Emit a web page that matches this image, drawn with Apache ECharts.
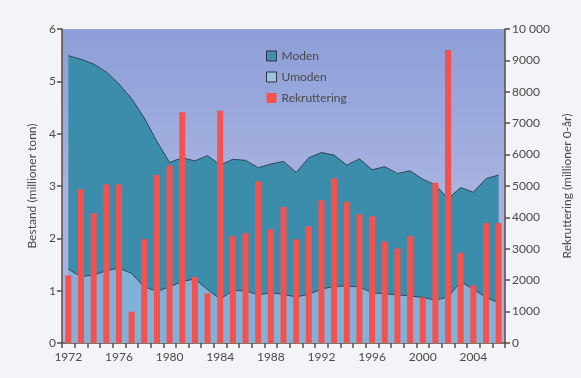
<!DOCTYPE html>
<html>
<head>
<meta charset="utf-8">
<script src="https://cdn.jsdelivr.net/npm/echarts@6/dist/echarts.min.js"></script>
<style>
html,body{margin:0;padding:0;background:#f2f4f7;}
#c{width:581px;height:378px;}
</style>
</head>
<body>
<div id="c"></div>
<script>
var years = [];
for (var y = 1972; y <= 2006; y++) years.push(String(y));

var totalBestand = [5.49,5.42,5.33,5.18,4.95,4.67,4.30,3.85,3.45,3.54,3.48,3.58,3.40,3.51,3.49,3.35,3.42,3.47,3.26,3.54,3.64,3.59,3.40,3.52,3.31,3.37,3.24,3.29,3.13,3.02,2.76,2.97,2.88,3.14,3.21];
var umoden = [1.41,1.27,1.30,1.38,1.43,1.33,1.07,0.99,1.07,1.18,1.22,1.02,0.84,1.00,1.00,0.92,0.96,0.93,0.88,0.93,1.03,1.08,1.09,1.07,0.96,0.94,0.92,0.90,0.87,0.82,0.88,1.17,1.03,0.87,0.77];
var moden = totalBestand.map(function(t, i){ return +(t - umoden[i]).toFixed(2); });
var rekruttering = [2150,4900,4130,5050,5050,1000,3310,5350,5650,7350,2100,1580,7400,3400,3500,5150,3620,4330,3300,3720,4550,5250,4500,4100,4030,3230,3010,3400,1450,5100,9330,2870,1840,3820,3820];

var leftTicks = [0,1,2,3,4,5,6];
var rightTicks = [0,1000,2000,3000,4000,5000,6000,7000,8000,9000,10000];

var chart = echarts.init(document.getElementById('c'), null, {renderer:'canvas'});
var font = 'Lato';
var txt = '#4a4a4a';
var axisCol = '#5b4c40';

chart.setOption({
  backgroundColor: '#f2f4f7',
  animation: false,
  textStyle: {fontFamily: font},
  grid: {
    left: 62, right: 75, top: 29, bottom: 35,
    show: true,
    borderWidth: 0,
    backgroundColor: new echarts.graphic.LinearGradient(0,0,0,1,[
      {offset:0, color:'#8d9ed8'},
      {offset:0.5, color:'#a6b2e0'},
      {offset:1, color:'#a6b2e0'}
    ])
  },
  legend: {
    orient: 'vertical',
    left: 261, top: 45,
    itemWidth: 10, itemHeight: 10, itemGap: 9,
    textStyle: {fontFamily: font, fontSize: 12, color: txt},
    data: [
      {name:'Moden', icon:'rect', itemStyle:{color:'#3d8fac', borderColor:'#334', borderWidth:1}},
      {name:'Umoden', icon:'rect', itemStyle:{color:'#9cc3e0', borderColor:'#334', borderWidth:1}},
      {name:'Rekruttering', icon:'rect', itemStyle:{color:'#f4524e'}}
    ]
  },
  xAxis: {
    type: 'category',
    data: years,
    boundaryGap: true,
    axisLine: {show: true, lineStyle: {color: axisCol, width: 1.5}},
    axisTick: {show: true, interval: 0, length: 5, lineStyle: {color: axisCol, width: 1.5}},
    axisLabel: {interval: 3, color: txt, fontSize: 12, fontFamily: font, margin: 8},
    splitLine: {show: false}
  },
  yAxis: [
    {
      type: 'value', min: leftTicks[0], max: leftTicks[leftTicks.length-1], interval: 1,
      name: 'Bestand (millioner tonn)', nameLocation: 'middle', nameGap: 23,
      nameTextStyle: {color: txt, fontSize: 12, fontFamily: font},
      axisLine: {show: true, lineStyle: {color: axisCol, width: 1.5}},
      axisTick: {show: true, length: 5, lineStyle: {color: axisCol, width: 1.5}},
      axisLabel: {color: txt, fontSize: 12, fontFamily: font, margin: 6},
      splitLine: {show: false}
    },
    {
      type: 'value', min: rightTicks[0], max: rightTicks[rightTicks.length-1], interval: 1000,
      position: 'right',
      name: 'Rekruttering (millioner 0-år)', nameLocation: 'middle', nameGap: 56, nameRotate: 90,
      nameTextStyle: {color: txt, fontSize: 12, fontFamily: font},
      axisLine: {show: true, lineStyle: {color: axisCol, width: 1.5}},
      axisTick: {show: true, length: 5, lineStyle: {color: axisCol, width: 1.5}},
      axisLabel: {color: txt, fontSize: 12, fontFamily: font, margin: 7,
        formatter: function(v){ return v >= 10000 ? '10 000' : String(v); }},
      splitLine: {show: false}
    }
  ],
  series: [
    {
      name: 'Umoden', type: 'line', stack: 'b', yAxisIndex: 0,
      data: umoden, symbol: 'none', smooth: false,
      lineStyle: {color: '#2e4756', width: 1},
      areaStyle: {color: '#80b2d9', opacity: 1},
      itemStyle: {color: '#9cc3e0'}, z: 2
    },
    {
      name: 'Moden', type: 'line', stack: 'b', yAxisIndex: 0,
      data: moden, symbol: 'none', smooth: false,
      lineStyle: {color: '#2e4756', width: 1},
      areaStyle: {color: '#3b8dab', opacity: 1},
      itemStyle: {color: '#3d8fac'}, z: 1
    },
    {
      name: 'Rekruttering', type: 'bar', yAxisIndex: 1,
      data: rekruttering, barWidth: 6,
      itemStyle: {color: '#f4524e'}, z: 3
    }
  ]
});
</script>
</body>
</html>
